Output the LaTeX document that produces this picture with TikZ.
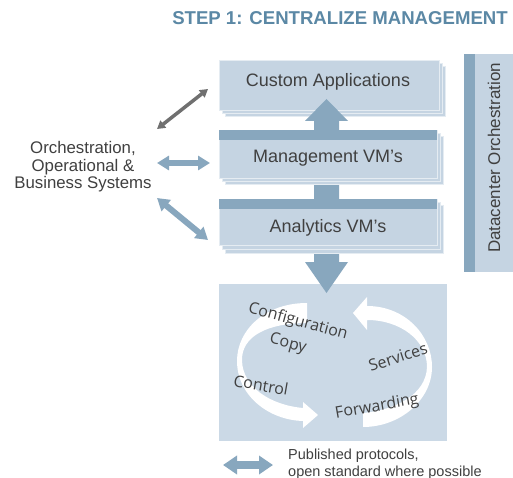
\documentclass[tikz,border=0pt]{standalone}
\usepackage{fontspec}
\setmainfont{Liberation Sans}
\newfontfamily\osans{Open Sans}
\usetikzlibrary{arrows.meta}
\definecolor{boxc}{HTML}{C5D4E2}
\definecolor{corec}{HTML}{CBD9E6}
\definecolor{barc}{HTML}{88A7BE}
\definecolor{titlec}{HTML}{5B88A5}
\definecolor{txtc}{HTML}{404040}
\definecolor{grayarr}{HTML}{707070}
\tikzset{
  layer/.style={fill=boxc, draw=white!55!boxc, line width=0.6pt},
  mainbox/.style={rectangle, fill=boxc, draw=white!55!boxc, line width=0.6pt, inner sep=0pt},
  boxlabel/.style={text=txtc, font=\fontsize{18}{20}\selectfont, inner sep=0pt},
  sidelabel/.style={text=txtc, font=\fontsize{16.8}{17.5}\selectfont, align=center, inner sep=0pt},
  cyclabel/.style={text=txtc, font=\osans\fontsize{16}{17}\selectfont, inner sep=0pt},
  bluearrow/.style={draw=barc, line width=6pt, {Triangle[width=14pt,length=12pt]}-{Triangle[width=14pt,length=12pt]}},
  grayarrow/.style={draw=grayarr, line width=3.5pt, {Triangle[width=9pt,length=8pt]}-{Triangle[width=9pt,length=8pt]}},
  legendarrow/.style={draw=barc, line width=8pt, {Triangle[width=18pt,length=14pt]}-{Triangle[width=18pt,length=14pt]}},
  blockarrow/.style={fill=barc},
  cycarrow/.style={fill=white}
}
\begin{document}
\begin{tikzpicture}[x=1pt,y=-1pt]
\useasboundingbox (0,0) rectangle (513,478);
\fill[white] (0,0) rectangle (513,478);

% title
\node[text=titlec, font=\fontsize{18.6}{20}\selectfont\bfseries, inner sep=0pt] (title) at (340,18) {STEP 1: CENTRALIZE MANAGEMENT};

% datacenter orchestration bar
\node[rectangle, fill=boxc, minimum width=49pt, minimum height=218pt, inner sep=0pt] (dco) at (488.5,163) {};
\fill[barc] (dco.north west) rectangle ([xshift=11pt]dco.south west);
\node[text=txtc, font=\fontsize{17}{18}\selectfont, rotate=90, inner sep=0pt] (dcot) at (494,158) {Datacenter Orchestration};

% custom applications box (stack)
\draw[layer] (225,66) rectangle (445,116);
\draw[layer] (222,63) rectangle (442,113);
\node[mainbox, minimum width=220pt, minimum height=50pt] (ca) at (329,85) {};
\node[boxlabel] (cat) at (328,82) {Custom Applications};

% bottom core box
\node[rectangle, fill=corec, minimum width=228pt, minimum height=157pt, inner sep=0pt] (core) at (333,362.5) {};

% up arrow from analytics to custom apps
\fill[blockarrow] (314,205) -- (314,121) -- (305,121) -- (326.5,99) -- (348,121) -- (339,121) -- (339,205) -- cycle;
% down arrow from analytics to core
\fill[blockarrow] (314,240) -- (314,262) -- (305,262) -- (326.5,293) -- (348,262) -- (339,262) -- (339,240) -- cycle;

% management box
\draw[layer] (225,136) rectangle (443,184);
\draw[layer] (222,133) rectangle (440,181);
\node[mainbox, minimum width=218pt, minimum height=48pt] (mg) at (328,154) {};
\fill[barc] (mg.north west) rectangle ([yshift=-10pt]mg.north east);
\node[boxlabel] (mgt) at (328,158) {Management VM’s};

% analytics box
\draw[layer] (225,205) rectangle (443,253);
\draw[layer] (222,202) rectangle (440,249);
\node[mainbox, minimum width=218pt, minimum height=46pt] (an) at (328,222) {};
\fill[barc] (an.north west) rectangle ([yshift=-10pt]an.north east);
\node[boxlabel] (ant) at (328,228) {Analytics VM’s};

% left label and connectors
\node[sidelabel] (sys) at (83,167) {Orchestration,\\Operational \&\\Business Systems};
\coordinate (g1) at (157,129);
\coordinate (g2) at (208,89);
\coordinate (b1) at (157,163);
\coordinate (b2) at (210,163);
\coordinate (d1) at (157,198);
\coordinate (d2) at (208,240);
\draw[grayarrow] (g1) -- (g2);
\draw[bluearrow] (b1) -- (b2);
\draw[bluearrow] (d1) -- (d2);

% cycle arrows
\fill[cycarrow] (307,303) .. controls (265,303) and (237,330) .. (237,361)
  .. controls (237,395) and (268,420) .. (303,421)
  -- (303,428) -- (318,415) -- (303,402) -- (303,408)
  .. controls (270,405) and (243,387) .. (242,361)
  .. controls (241,336) and (268,323) .. (307,323) -- cycle;
\fill[cycarrow] (367,306) .. controls (405,306) and (432,335) .. (432,367)
  .. controls (432,400) and (400,427) .. (363,427)
  -- (363,413)
  .. controls (395,410) and (426,395) .. (427,367)
  .. controls (427,340) and (400,320) .. (367,320)
  -- (367,330) -- (353,313) -- (367,297) -- cycle;

\node[cyclabel, rotate=-15] (cfg) at (298,322) {Configuration};
\node[cyclabel, rotate=-15] (cpy) at (288,344) {Copy};
\node[cyclabel, rotate=-10] (ctl) at (261,385) {Control};
\node[cyclabel, rotate=18] (svc) at (398,357) {Services};
\node[cyclabel, rotate=10] (fwd) at (377,407) {Forwarding};

% legend
\coordinate (l1) at (223,465);
\coordinate (l2) at (273,465);
\draw[legendarrow] (l1) -- (l2);
\node[text=txtc, font=\fontsize{14.5}{17}\selectfont, align=left, anchor=west, inner sep=0pt] (leg) at (288,464) {Published protocols,\\open standard where possible};
\end{tikzpicture}
\end{document}
